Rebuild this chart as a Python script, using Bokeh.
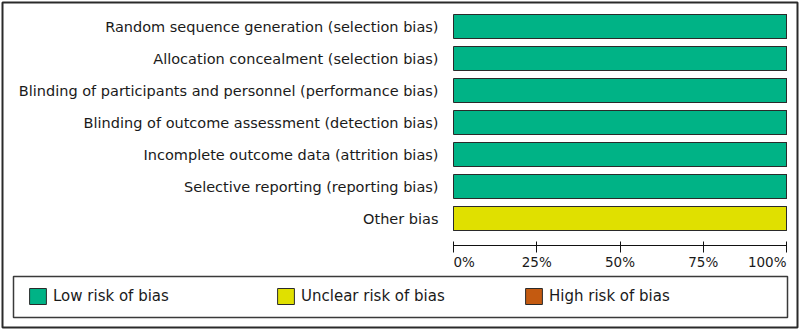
from bokeh.plotting import figure
from bokeh.models import (Range1d, FixedTicker, Legend, LegendItem,
                          BoxAnnotation, ColumnDataSource)
from bokeh.core.properties import value
from bokeh.embed import file_html
from bokeh.resources import INLINE

# Risk-of-bias domains (top to bottom)
domains = [
    "Random sequence generation (selection bias)",
    "Allocation concealment (selection bias)",
    "Blinding of participants and personnel (performance bias)",
    "Blinding of outcome assessment (detection bias)",
    "Incomplete outcome data (attrition bias)",
    "Selective reporting (reporting bias)",
    "Other bias",
]
# Percentage of studies per judgement
low_risk = [100, 100, 100, 100, 100, 100, 0]
unclear_risk = [0, 0, 0, 0, 0, 0, 100]
high_risk = [0, 0, 0, 0, 0, 0, 0]

judgements = ["Low risk of bias", "Unclear risk of bias", "High risk of bias"]
judgement_colors = ["#00b386", "#e0e000", "#c45a10"]

x_ticks = [0, 25, 50, 75, 100]
x_tick_labels = ["0%", "25%", "50%", "75%", "100%"]
x_tick_align = ["left", "center", "center", "center", "right"]

FONT = "DejaVu Sans"
W, H = 800, 330
n = len(domains)

# layout in pixels: bar area spans 453..786, rows 32 px apart starting at 26
BAR_LEFT_PX, BAR_RIGHT_PX = 453, 786
ROW_PX, FIRST_ROW_PX = 32, 26
AXIS_PX = 245
px_per_unit = (BAR_RIGHT_PX - BAR_LEFT_PX) / 100.0

x_range = Range1d(-BAR_LEFT_PX / px_per_unit, 100 + (W - BAR_RIGHT_PX) / px_per_unit)
y_range = Range1d(start=(H - FIRST_ROW_PX) / ROW_PX, end=-FIRST_ROW_PX / ROW_PX)
axis_y = (AXIS_PX - FIRST_ROW_PX) / ROW_PX

p = figure(
    width=W, height=H, x_range=x_range, y_range=y_range,
    output_backend="svg", toolbar_location=None,
    min_border=0,
)
p.background_fill_color = "white"
p.border_fill_color = "white"
p.outline_line_color = None
p.xgrid.visible = False
p.ygrid.visible = False

# stacked horizontal bars, one renderer per judgement
left_edge = [0] * n
renderers = []
for vals, color in zip([low_risk, unclear_risk, high_risk], judgement_colors):
    src = ColumnDataSource(dict(
        y=list(range(n)),
        left=list(left_edge),
        right=[left_edge[i] + vals[i] for i in range(n)],
    ))
    r = p.hbar(y="y", left="left", right="right", height=0.75, source=src,
               fill_color=color, line_color="#2a2a2a", line_width=1)
    renderers.append(r)
    for i in range(n):
        left_edge[i] += vals[i]

# y axis pinned to the bars' left edge: domain names
yax = p.yaxis[0]
yax.fixed_location = 0
yax.ticker = FixedTicker(ticks=list(range(n)), minor_ticks=[])
yax.major_label_overrides = {i: d for i, d in enumerate(domains)}
yax.axis_line_color = None
yax.major_tick_line_color = None
yax.minor_tick_line_color = None
yax.major_tick_out = 0
yax.major_tick_in = 0
yax.major_label_standoff = 15
yax.major_label_text_font = FONT
yax.major_label_text_font_size = "14.5px"
yax.major_label_text_color = "#1a1a1a"

# x axis pinned under the last row: line and ticks
xax = p.xaxis[0]
xax.fixed_location = axis_y
xax.bounds = (0, 100)
xax.ticker = FixedTicker(ticks=x_ticks, minor_ticks=[])
xax.major_label_overrides = {t: "" for t in x_ticks}
xax.axis_line_color = "#111111"
xax.major_tick_line_color = "#111111"
xax.minor_tick_line_color = None
xax.major_tick_in = 4
xax.major_tick_out = 7

# percentage labels: end labels flush with the bar ends
tick_src = ColumnDataSource(dict(x=x_ticks, y=[axis_y] * len(x_ticks),
                                 text=x_tick_labels, align=x_tick_align))
p.text(x="x", y="y", text="text", source=tick_src, text_align="align",
       text_baseline="top", y_offset=8, text_font_size="13.5px",
       text_font=value(FONT), text_color="#1a1a1a")

# legend row
legend = Legend(
    items=[LegendItem(label=lab, renderers=[r]) for lab, r in zip(judgements, renderers)],
    orientation="horizontal",
    location=(27, 24),
    border_line_color=None,
    background_fill_alpha=0,
    padding=0, margin=0, spacing=0,
    glyph_width=21, glyph_height=20,
    label_standoff=5, label_width=222, label_height=20,
    label_text_font=FONT, label_text_font_size="15px",
    label_text_color="#1a1a1a",
)
p.add_layout(legend, "center")

# frame around the legend row and around the whole chart
p.add_layout(BoxAnnotation(
    left=13, right=787, top=54, bottom=13,
    left_units="screen", right_units="screen",
    top_units="screen", bottom_units="screen",
    fill_color=None, line_color="#3a3a3a", line_alpha=1.0, line_width=1.5,
))
p.add_layout(BoxAnnotation(
    left=2, right=797, top=328, bottom=3,
    left_units="screen", right_units="screen",
    top_units="screen", bottom_units="screen",
    fill_color=None, line_color="#2a2a2a", line_alpha=1.0, line_width=2,
))

open("out.html", "w").write(file_html(p, INLINE))
